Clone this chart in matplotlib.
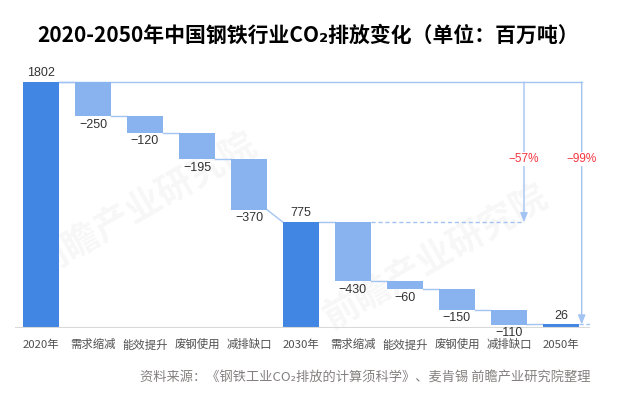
import numpy as np
import matplotlib
matplotlib.use("Agg")
import matplotlib.pyplot as plt

# categories and values (million tonnes CO2)
categories = ["2020年", "需求缩减", "能效提升", "废钢使用", "减排缺口",
              "2030年", "需求缩减", "能效提升", "废钢使用", "减排缺口", "2050年"]
values = [1802, -250, -120, -195, -370, 775, -430, -60, -150, -110, 26]
is_total = [True, False, False, False, False, True, False, False, False, False, True]
pct_labels = ["−57%", "−99%"]

plt.rcParams["font.family"] = ["Noto Sans CJK SC", "DejaVu Sans"]

dark = "#4286E3"
light = "#88B3EF"
line_c = "#A3C4F2"
num_font = ["Liberation Sans", "DejaVu Sans"]

fig = plt.figure(figsize=(6.2, 3.95), dpi=100)
ax = fig.add_axes([15 / 620, 67 / 395, 575 / 620, 258 / 395])

w = 0.69
x = np.arange(len(values))

# waterfall bottoms/heights
bottoms, heights, ends, tops = [], [], [], []
level = 0
for v, tot in zip(values, is_total):
    if tot:
        bottoms.append(0)
        heights.append(v)
        tops.append(v)
        level = v
        ends.append(v)
    else:
        tops.append(level)
        level += v
        bottoms.append(level)
        heights.append(-v)
        ends.append(level)

colors = [dark if t else light for t in is_total]
ax.bar(x, heights, bottom=bottoms, width=w, color=colors, zorder=3)

# connectors between bars
for i in range(len(values) - 1):
    ax.plot([x[i] + w / 2, x[i + 1] - w / 2], [ends[i], tops[i + 1]],
            color=line_c, lw=1, zorder=2)

# reduction arrows
x57 = 9.29
x99 = 10.40
ax.plot([x[0] + w / 2, x99], [values[0], values[0]], color=line_c, lw=1, zorder=2)
ax.plot([x[6] + w / 2, x57], [values[5], values[5]], color=line_c, lw=1,
        ls=(0, (3, 2)), zorder=2)
ax.plot([x[10] + w / 2, 10.6], [values[10], values[10]], color=line_c, lw=1,
        ls=(0, (3, 2)), zorder=2)
for xa, yb in [(x57, values[5]), (x99, values[10])]:
    ax.annotate("", xy=(xa, yb), xytext=(xa, values[0]),
                arrowprops=dict(arrowstyle="-|>,head_width=0.22,head_length=0.55",
                                color=line_c, lw=1, shrinkA=0, shrinkB=0))
for xa, lab in zip([x57, x99], pct_labels):
    ax.text(xa, 1238, lab, ha="center", va="center", fontsize=8.5, color="#F2343F",
            family=num_font, bbox=dict(facecolor="white", edgecolor="none", pad=0.5),
            zorder=4)

# value labels
for i, v in enumerate(values):
    if is_total[i]:
        ax.annotate(str(v), (x[i], tops[i]), xytext=(0, 2), textcoords="offset points",
                    ha="center", va="bottom", fontsize=9, color="#333333",
                    family=num_font, zorder=5)
    else:
        ax.annotate("−" + str(-v), (x[i], bottoms[i]), xytext=(0, -2),
                    textcoords="offset points", ha="center", va="top", fontsize=9,
                    color="#333333", family=num_font, zorder=5)

# faint watermark
for wx, wy in [(2.0, 900), (7.6, 520)]:
    ax.text(wx, wy, "前瞻产业研究院", fontsize=26, color="#000000", alpha=0.035,
            rotation=30, ha="center", va="center", weight="bold", zorder=1)

ax.axhline(0, color="#D9D9D9", lw=1.5, zorder=4)
ax.set_xlim(-0.5, 10.56)
ax.set_ylim(0, 1890)
ax.set_xticks(x)
ax.set_xticklabels(categories, fontsize=8.2, color="#505050")
ax.tick_params(axis="x", length=0, pad=8)
ax.set_yticks([])
for s in ax.spines.values():
    s.set_visible(False)

fig.text(37 / 620, 1 - 35 / 395, "2020-2050年中国钢铁行业CO₂排放变化（单位：百万吨）",
         fontsize=15, weight="bold", va="center", ha="left", color="black")
fig.text(590 / 620, 1 - 378 / 395, "资料来源：《钢铁工业CO₂排放的计算须科学》、麦肯锡 前瞻产业研究院整理",
         fontsize=9.5, color="#858080", ha="right", va="center")

fig.savefig("out.png", dpi=100)
